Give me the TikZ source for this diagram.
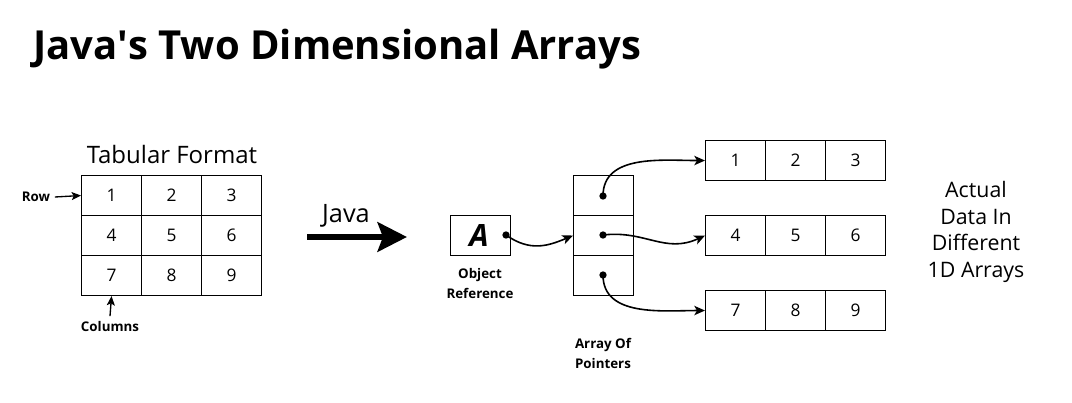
\documentclass[tikz,border=0pt]{standalone}
\usepackage{fontspec}
\setmainfont{Open Sans}
\usetikzlibrary{arrows.meta}
\begin{document}
\begin{tikzpicture}[x=0.75pt,y=-0.75pt,
  cell/.style={draw, line width=0.8pt, minimum width=45pt, minimum height=30pt, inner sep=0pt, anchor=north west, font=\fontsize{13}{15}\selectfont},
  dot/.style={circle, fill=black, inner sep=0pt, minimum size=5.5pt},
  curve/.style={line width=1.2pt, -{Stealth[length=8pt,width=7pt,inset=2pt]}},
  small/.style={font=\bfseries\fontsize{10}{15}\selectfont, align=center},
  big/.style={font=\fontsize{16}{20}\selectfont, align=center},
  arr/.style={line width=1pt, -{Stealth[length=7pt,width=6pt,inset=1.5pt]}}]
\useasboundingbox (0,0) rectangle (1072,403);
% title
\node[anchor=base west, inner sep=0pt, font=\bfseries\fontsize{30}{36}\selectfont] (title) at (33,60) {Java\textquotesingle s Two Dimensional Arrays};
% tabular grid
\foreach \r in {1,2,3} {
  \foreach \c in {1,2,3} {
    \pgfmathtruncatemacro\n{(\r-1)*3+\c}
    \node[cell] (t\r\c) at ({81+60*(\c-1)},{175+40*(\r-1)}) {\n};
  }
}
\node[big, font=\fontsize{18}{22}\selectfont] (tabfmt) at (172,155) {Tabular Format};
\node[small] (row) at (36,197) {Row};
\draw[arr] (row.east) -- (t11.west);
\node[small] (cols) at (110,326) {Columns};
\draw[arr] (cols.north) -- (t31.south);
% Java arrow
\coordinate (js) at (307,237);
\coordinate (je) at (407,237);
\draw[line width=4.5pt, -{Stealth[length=22pt,width=22pt,inset=4pt]}] (js) -- (je);
\node[big, font=\fontsize{19}{22}\selectfont] (javatxt) at (346,216) {Java};
% object reference
\node[cell] (objA) at (450,215) {};
\node[font=\bfseries\itshape\fontsize{23}{26}\selectfont] (Alab) at (479,236) {A};
\node[dot] (da) at (506,235) {};
\node[small] (objref) at (480,283) {Object\\Reference};
% pointer array
\foreach \r in {1,2,3} {
  \node[cell] (p\r) at (573,{175+40*(\r-1)}) {};
}
\node[dot] (dp1) at (603,196) {};
\node[dot] (dp2) at (603,235) {};
\node[dot] (dp3) at (603,275) {};
\node[small] (aop) at (603,353) {Array Of\\Pointers};
% data arrays
\foreach \r/\y in {1/140,2/215,3/290} {
  \foreach \c in {1,2,3} {
    \pgfmathtruncatemacro\n{(\r-1)*3+\c}
    \node[cell] (d\r\c) at ({705+60*(\c-1)},\y) {\n};
  }
}
\node[big] (actual) at (976,232) {Actual\\Data In\\Different\\1D Arrays};
% connectors
\draw[curve] (da.center) .. controls (530,252) and (548,246) .. (p2.west);
\draw[curve] (dp1.center) to[out=90,in=180] (d11.west);
\draw[curve] (dp2.center) .. controls (645,230) and (665,254) .. (d21.west);
\draw[curve] (dp3.center) to[out=-90,in=180] (d31.west);
\end{tikzpicture}
\end{document}
